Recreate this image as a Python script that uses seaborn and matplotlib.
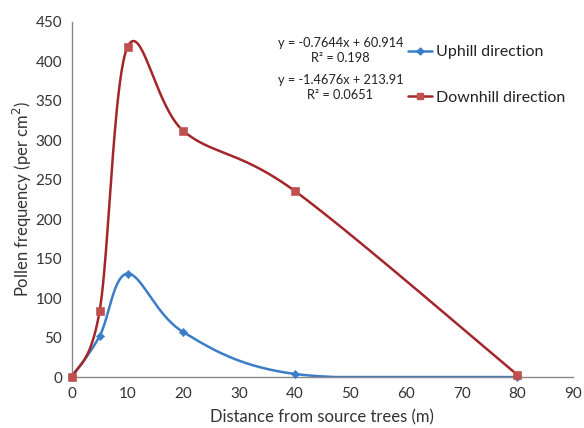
import numpy as np
import pandas as pd
import matplotlib
matplotlib.use('Agg')
import matplotlib.pyplot as plt
import seaborn as sns
from matplotlib.lines import Line2D

distance = [0, 5, 10, 20, 40, 80]
uphill = [0, 52, 131, 57, 4, 0]
downhill = [0, 84, 418, 312, 236, 3]

eq_up = "y = -0.7644x + 60.914\nR\u00b2 = 0.198"
eq_down = "y = -1.4676x + 213.91\nR\u00b2 = 0.0651"

XMAX, YMAX = 90, 450


def smooth(xs, ys, n=40):
    # Excel-like smoothed line: Catmull-Rom style Bezier in normalized space
    px = np.array(xs, float) / XMAX
    py = np.array(ys, float) / YMAX * 0.8
    pts = np.column_stack([px, py])
    out = []
    for i in range(len(pts) - 1):
        p0 = pts[max(i - 1, 0)]
        p1 = pts[i]
        p2 = pts[i + 1]
        p3 = pts[min(i + 2, len(pts) - 1)]
        c1 = p1 + (p2 - p0) / 6
        c2 = p2 - (p3 - p1) / 6
        t = np.linspace(0, 1, n)[:, None]
        seg = ((1 - t) ** 3) * p1 + 3 * ((1 - t) ** 2) * t * c1 + 3 * (1 - t) * t ** 2 * c2 + t ** 3 * p2
        out.append(seg if i == 0 else seg[1:])
    out = np.vstack(out)
    return out[:, 0] * XMAX, np.clip(out[:, 1] / 0.8 * YMAX, 0, None)


sns.set_style("white")
plt.rcParams['font.family'] = ['Lato', 'DejaVu Sans']

fig = plt.figure(figsize=(5.84, 4.28), dpi=100)
ax = fig.add_axes([0.123, 0.119, 0.858, 0.830])

blue = '#3b7dc8'
red_line = '#a3262a'
red_mark = '#c0504d'

ux, uy = smooth(distance, uphill)
dx, dy = smooth(distance, downhill)
sns.lineplot(x=ux, y=uy, ax=ax, color=blue, lw=1.8, sort=False)
sns.lineplot(x=dx, y=dy, ax=ax, color=red_line, lw=1.8, sort=False)

pts = pd.DataFrame({'x': distance, 'up': uphill, 'down': downhill})
sns.scatterplot(data=pts, x='x', y='up', ax=ax, marker='D', s=18, color=blue,
                edgecolor=blue, zorder=3, clip_on=False)
sns.scatterplot(data=pts, x='x', y='down', ax=ax, marker='s', s=30, color=red_mark,
                edgecolor=red_mark, zorder=3, clip_on=False)

ax.set_xlim(0, XMAX)
ax.set_ylim(0, YMAX)
ax.set_xticks(range(0, 91, 10))
ax.set_yticks(range(0, 451, 50))
for s in ['top', 'right']:
    ax.spines[s].set_visible(False)
for s in ['left', 'bottom']:
    ax.spines[s].set_color('#888888')
    ax.spines[s].set_linewidth(1.0)
ax.tick_params(axis='both', direction='out', length=4, width=1, color='#888888',
               labelsize=11, labelcolor='#333333', pad=3)
ax.set_xlabel('Distance from source trees (m)', fontsize=12, color='#333333', labelpad=6)
ax.set_ylabel('Pollen frequency (per cm$^2$)', fontsize=12, color='#333333', labelpad=1)

h_up = Line2D([], [], color=blue, lw=1.8, marker='D', ms=3.5)
h_dn = Line2D([], [], color=red_line, lw=1.8, marker='s', ms=5, mfc=red_mark, mec=red_mark)
leg = ax.legend([h_up, h_dn], ['Uphill direction', 'Downhill direction'],
                loc='upper left', bbox_to_anchor=(0.642, 0.975), frameon=False,
                fontsize=11.5, labelspacing=1.95, handlelength=1.5, handletextpad=0.25)
for t in leg.get_texts():
    t.set_color('#222222')

fig.text(0.583, 0.882, eq_up, ha='center', va='center', fontsize=9.2,
         linespacing=1.35, color='#222222')
fig.text(0.583, 0.796, eq_down, ha='center', va='center', fontsize=9.2,
         linespacing=1.35, color='#222222')

fig.savefig('out.png', dpi=100)
